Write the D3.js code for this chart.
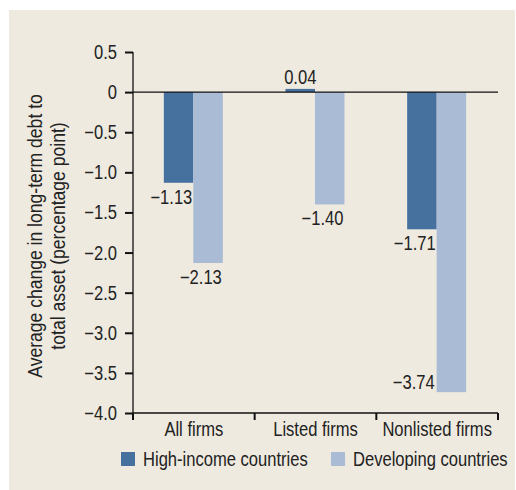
<!DOCTYPE html>
<html>
<head>
  <meta charset="utf-8">
  <style>
  body {
    margin: 0;
    background: #fff;
    font-family: "Liberation Sans", Arial, sans-serif;
  }

  .domain {
    stroke: #111;
    stroke-width: 1.3;
  }

  .tick line {
    stroke: #111;
    stroke-width: 2;
  }

  .tick text {
    font-size: 19.5px;
    fill: #222;
  }

  .label {
    font-size: 19.5px;
    fill: #222;
  }
  </style>
  <script src="https://d3js.org/d3.v7.min.js"></script>
</head>
<body>
<div id="container"></div>
<script>
var categories = ["All firms", "Listed firms", "Nonlisted firms"],
    seriesNames = ["High-income countries", "Developing countries"],
    highIncome = [-1.13, 0.04, -1.71],
    developing = [-2.13, -1.40, -3.74],
    yTicks = [0.5, 0, -0.5, -1.0, -1.5, -2.0, -2.5, -3.0, -3.5, -4.0],
    colors = ["#46709e", "#aabbd6"]

var W = 516, H = 490,
    margin = { top: 52, right: 18, bottom: 77, left: 133 },
    width = W - margin.left - margin.right,
    height = H - margin.top - margin.bottom,
    squeezeK = 0.85

var series = [highIncome, developing]

// condensed look: move x/y into a transform and narrow the glyphs
function squeeze(sel, k) {
  sel.each(function() {
    var t = d3.select(this),
        tx = +t.attr("x") || 0,
        ty = +t.attr("y") || 0
    t.attr("x", null).attr("y", null)
      .attr("transform", "translate(" + tx + "," + ty + ") scale(" + (k || squeezeK) + ",1)")
  })
}

var svg = d3.select("#container").append("svg")
    .attr("width", W)
    .attr("height", H)

svg.append("rect")
  .attr("x", 9)
  .attr("y", 10)
  .attr("width", W - 10)
  .attr("height", H - 10)
  .attr("fill", "#eeeae0")

var g = svg.append("g")
  .attr("transform", "translate(" + margin.left + "," + margin.top + ")")

var x = d3.scaleBand()
  .domain(categories)
  .range([0, width])

var xi = d3.scaleBand()
  .domain(d3.range(seriesNames.length))
  .range([0, 59])

var y = d3.scaleLinear()
  .domain([0.5, -4.0])
  .range([0, height])

function fmt(v) {
  return v === 0 ? "0" : d3.format(".1f")(v).replace("-", "\u2013")
}

// y axis
var yax = d3.axisLeft(y)
  .tickValues(yTicks)
  .tickSize(8)
  .tickPadding(8)
  .tickFormat(fmt)

g.append("g")
  .attr("class", "y")
  .call(yax)
  .call(function(s) { s.select(".domain").attr("d", "M0," + y(0.5) + "V" + y(-4.0)) })
  .call(function(s) {
    s.selectAll(".tick text").attr("y", 6.5).attr("dy", null)
    squeeze(s.selectAll(".tick text"))
  })

// bottom axis with dividers
var bottom = g.append("g")
  .attr("class", "x")
  .attr("transform", "translate(0," + height + ")")

bottom.append("line")
  .attr("x1", 0)
  .attr("x2", width)
  .attr("stroke", "#111")
  .attr("stroke-width", 1.3)

var edges = categories.map(function(c) { return x(c) }).concat([width])

bottom.selectAll(".divider")
  .data(edges)
  .enter().append("line")
  .attr("class", "divider")
  .attr("x1", function(d) { return d })
  .attr("x2", function(d) { return d })
  .attr("y1", 0)
  .attr("y2", 7)
  .attr("stroke", "#111")
  .attr("stroke-width", 2)

bottom.selectAll(".cat")
  .data(categories)
  .enter().append("text")
  .attr("class", "label cat")
  .attr("x", function(d) { return x(d) + x.bandwidth() / 2 })
  .attr("y", 23)
  .attr("text-anchor", "middle")
  .text(function(d) { return d })
  .call(squeeze)

// bars
var bars = []
series.forEach(function(vals, si) {
  vals.forEach(function(v, ci) {
    bars.push({ s: si, c: categories[ci], v: v })
  })
})

var gx = function(d) {
  return x(d.c) + x.bandwidth() / 2 - 30 + xi(d.s)
}

g.selectAll(".bar")
  .data(bars)
  .enter().append("rect")
  .attr("class", "bar")
  .attr("x", gx)
  .attr("width", xi.bandwidth())
  .attr("y", function(d) { return y(Math.max(0, d.v)) })
  .attr("height", function(d) { return Math.abs(y(d.v) - y(0)) })
  .attr("fill", function(d) { return colors[d.s] })

// zero line
g.append("line")
  .attr("x1", 0)
  .attr("x2", width)
  .attr("y1", y(0))
  .attr("y2", y(0))
  .attr("stroke", "#111")
  .attr("stroke-width", 1.3)

// value labels
g.selectAll(".val")
  .data(bars)
  .enter().append("text")
  .attr("class", "label val")
  .attr("x", function(d) {
    if (d.v > 0) return gx(d) + xi.bandwidth() / 2
    if (height - y(d.v) < 30) return gx(d) - 2
    return gx(d) + xi.bandwidth() - 1
  })
  .attr("y", function(d) {
    if (d.v > 0) return y(d.v) - 5
    if (height - y(d.v) < 30) return y(d.v) - 3
    return y(d.v) + 21
  })
  .attr("text-anchor", function(d) { return d.v > 0 ? "middle" : "end" })
  .text(function(d) { return d3.format(".2f")(d.v).replace("-", "\u2013") })
  .call(squeeze)

// y title
var title = svg.append("g")
  .attr("transform", "translate(42,236) rotate(-90)")

title.selectAll("text")
  .data(["Average change in long-term debt to", "total asset (percentage point)"])
  .enter().append("text")
  .attr("class", "label")
  .attr("y", function(d, i) { return i * 23 })
  .attr("text-anchor", "middle")
  .text(function(d) { return d })
  .call(squeeze, 0.9)

// legend
var legend = svg.append("g")
  .attr("transform", "translate(121,452)")

var items = legend.selectAll(".item")
  .data(seriesNames)
  .enter().append("g")
  .attr("class", "item")
  .attr("transform", function(d, i) { return "translate(" + (i * 210) + ",0)" })

items.append("rect")
  .attr("width", 14)
  .attr("height", 14)
  .attr("fill", function(d, i) { return colors[i] })

items.append("text")
  .attr("class", "label")
  .attr("x", 22)
  .attr("y", 14)
  .text(function(d) { return d })
  .call(squeeze)
</script>
</body>
</html>
